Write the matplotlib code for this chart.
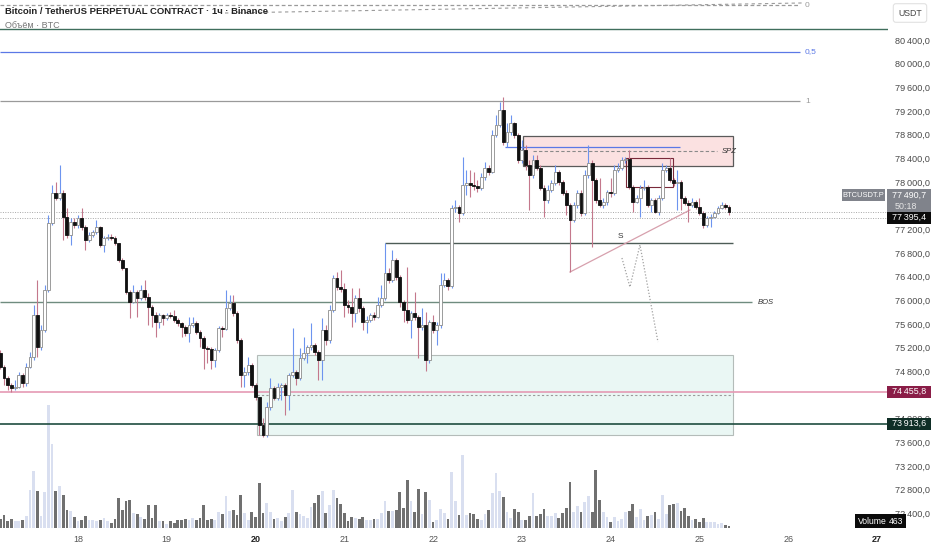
import numpy as np
import matplotlib.pyplot as plt
from matplotlib.patches import Rectangle
import matplotlib.transforms as mtransforms

plt.rcParams["font.family"] = ["Liberation Sans", "DejaVu Sans"]

# BTCUSDT.P, 1h candles, first candle 17th 03:00
FIRST_OPEN = 75110
CLOSE = [
    74874, 74688, 74570, 74519, 74536, 74738, 74603, 74874, 75043, 75753,
    75212, 75499, 76175, 77307, 77814, 77730, 77814, 77409, 77105, 77324,
    77274, 77392, 77240, 77020, 77105, 77155, 77240, 76936, 77054, 77071,
    77054, 76969, 76682, 76547, 76141, 75972, 76141, 76040, 76175, 76057,
    75888, 75753, 75634, 75753, 75702, 75753, 75736, 75668, 75617, 75550,
    75448, 75584, 75617, 75465, 75364, 75195, 75178, 74992, 75161, 75533,
    75516, 75871, 75955, 75786, 75330, 74738, 74789, 74908, 74570, 74367,
    73894, 73725, 74198, 74519, 74350, 74536, 74570, 74401, 74738, 74789,
    74688, 75026, 75110, 75212, 75246, 75127, 74992, 75499, 75330, 75837,
    76378, 76226, 76192, 75922, 75888, 75786, 76040, 75871, 75634, 75668,
    75753, 75719, 75922, 76040, 76462, 76344, 76682, 76395, 75972, 75837,
    75668, 75786, 75719, 75550, 75584, 74992, 75634, 75499, 75584, 76260,
    76344, 76243, 77561, 77578, 77476, 77950, 77983, 77950, 77933, 77899,
    78085, 78237, 78169, 78794, 78963, 79217, 78676, 78845, 78997, 78794,
    78372, 78541, 78288, 78119, 78372, 78237, 77899, 77696, 77865, 77983,
    78169, 78000, 77814, 77612, 77358, 77612, 77814, 77476, 78119, 78321,
    78034, 77696, 77612, 77662, 77831, 77814, 78203, 78237, 78372, 78389,
    77916, 77662, 77730, 77899, 77916, 77612, 77696, 77493, 77730, 78203,
    78237, 78034, 77983, 78000, 77730, 77646, 77612, 77662, 77578, 77476,
    77274, 77392, 77409, 77476, 77561, 77612, 77578, 77490.7,
]
HIGH = [
    75161, 74908, 74722, 74603, 74654, 74789, 74772, 74941, 75127, 75922,
    76344, 75584, 76260, 77443, 77950, 78000, 78288, 77865, 77561, 77392,
    77392, 77443, 77561, 77274, 77155, 77189, 77358, 77257, 77088, 77121,
    77121, 77088, 76969, 76716, 76547, 76175, 76260, 76175, 76260, 76344,
    76124, 75922, 75803, 75786, 75769, 75786, 75803, 75837, 75702, 75634,
    75584, 75719, 75719, 75651, 75499, 75398, 75229, 75212, 75195, 75567,
    75567, 76175, 76090, 76090, 75820, 75364, 74874, 75043, 74941, 74603,
    74367, 74012, 74282, 74688, 74553, 74603, 74603, 74603, 74772, 75533,
    74823, 75195, 75381, 75246, 75617, 75279, 75161, 75702, 75584, 75922,
    76429, 76479, 76513, 76293, 76006, 76209, 76090, 76209, 75905, 75736,
    75786, 75803, 76057, 76260, 76969, 76547, 76851, 76716, 76429, 76006,
    76564, 75820, 76141, 75753, 75871, 75803, 75668, 75753, 75634, 76462,
    76462, 76378, 77612, 77696, 77612, 78423, 78203, 78203, 78169, 78034,
    78152, 78338, 78288, 78879, 79132, 79352, 79437, 78997, 79132, 79014,
    78828, 78710, 78626, 78372, 78457, 78457, 78288, 77950, 77950, 78034,
    78288, 78203, 78034, 77865, 77645, 77662, 77865, 77865, 78203, 78626,
    78372, 78068, 78068, 77730, 77865, 78068, 78288, 78321, 78423, 78423,
    78541, 77950, 77781, 77950, 78034, 77950, 77730, 77730, 77781, 78321,
    78288, 78406, 78068, 78203, 78034, 77764, 77696, 77730, 77696, 77730,
    77510, 77426, 77460, 77510, 77595, 77662, 77646, 77612,
]
LOW = [
    74840, 74570, 74485, 74451, 74485, 74519, 74536, 74553, 74857, 74992,
    75043, 75161, 75465, 76141, 77274, 77696, 77696, 77020, 77054, 76936,
    77223, 77223, 77189, 76851, 76986, 77071, 77121, 76902, 76817, 77020,
    77020, 76936, 76648, 76513, 76107, 75702, 75955, 75719, 76006, 76006,
    75584, 75550, 75381, 75533, 75584, 75668, 75702, 75634, 75567, 75381,
    75398, 75296, 75550, 75431, 75212, 74839, 74941, 74839, 74874, 75127,
    75381, 75499, 75837, 75736, 75279, 74536, 74536, 74738, 74536, 74316,
    73725, 73691, 73691, 74147, 74316, 74316, 74316, 74063, 74147, 74705,
    74570, 74654, 74992, 74941, 75161, 75077, 74654, 74654, 75246, 75279,
    75803, 76175, 76141, 75719, 75786, 75550, 75634, 75803, 75499, 75448,
    75634, 75668, 75702, 75888, 76006, 76293, 76310, 76344, 75888, 75634,
    75617, 75364, 75668, 75026, 75499, 74806, 74941, 75448, 75246, 75533,
    76226, 76175, 76209, 77493, 77324, 77443, 77781, 77747, 77865, 77831,
    77865, 78034, 78119, 78152, 78761, 78930, 78626, 78592, 78794, 78744,
    78321, 78321, 78203, 77527, 78068, 78203, 77865, 77409, 77646, 77831,
    77950, 77950, 77781, 77443, 76479, 77324, 77561, 77426, 77443, 78068,
    76902, 77646, 77578, 77561, 77612, 77747, 77781, 78169, 78203, 78321,
    77882, 77493, 77646, 77409, 77865, 77578, 77493, 77476, 77443, 77696,
    78169, 78000, 77933, 77527, 77527, 77612, 77324, 77578, 77544, 77443,
    77223, 77240, 77240, 77392, 77460, 77540, 77544, 77443,
]
VOLUME = [
    1800, 2600, 1400, 1800, 1400, 1400, 1600, 2400, 7600, 11400,
    7400, 2400, 7200, 24600, 16800, 7400, 8400, 6600, 3600, 3400,
    2200, 1400, 1600, 2400, 1600, 1600, 1400, 1600, 2000, 1400,
    1000, 1800, 6000, 3600, 5400, 5600, 3000, 2800, 2200, 1800,
    4600, 2000, 4600, 1400, 1400, 800, 1400, 1000, 1600, 1600,
    1800, 1600, 2000, 1600, 2000, 4600, 1600, 1800, 1600, 3200,
    2800, 6400, 3400, 3600, 2600, 6600, 3000, 1600, 3200, 2200,
    9000, 3000, 5000, 3200, 1800, 2000, 1400, 2200, 3000, 7600,
    3200, 2800, 2400, 2000, 4200, 5000, 6600, 7400, 3000, 4600,
    7600, 6000, 4800, 3000, 1400, 2200, 2000, 1800, 2200, 1600,
    1600,
    1800, 1800, 3000, 5400, 3400, 3400, 3600, 7200, 4000, 9600,
    5400, 3200, 7800, 2800, 7200, 5600, 1200, 1600, 3800, 3000,
    1800, 11200, 5400, 2600, 14600, 2600, 3000, 2800, 1800, 1600,
    2800, 3600, 7000, 11000, 7400, 6200, 3200, 2000, 3800, 3200,
    1600, 1600, 2400, 7000, 2400, 2800, 3800, 2400, 2400, 3000,
    2000, 3000, 4000, 9200, 3200, 4400, 3200, 5200, 6400, 3200,
    11600, 5600, 3200, 2200, 1200, 2200, 1400, 1800, 3200, 3400,
    4800, 2200, 3800, 1600, 2400, 2600, 3200, 1800, 6600, 2800,
    4600, 4800, 5000, 3400, 4000, 2400, 1600, 1800, 1200, 2000,
    1200, 1200, 1200, 800, 1000, 600, 463,
]

DAY_TICKS = [18, 19, 20, 21, 22, 23, 24, 25, 26, 27]
BOLD_DAYS = [20, 27]
# 77600 and 74400 sit under the price tags, TradingView hides them
PRICE_TICKS = [p for p in range(72400, 80401, 400) if p not in (77600, 74400)]

# drawn levels
TOP_GREEN = 80586
FIB_LEVELS = [("0", 80991, "#9a9a9a"), ("0,5", 80197, "#5b78e6"), ("1", 79369, "#9a9a9a")]
S_LEVEL = 76969
BOS_LEVEL = 75972
PINK_LEVEL = 74455.8
GREEN_LEVEL = 73913.6
MARK_LEVEL = 77395.4
LAST_PRICE = CLOSE[-1]
COUNTDOWN = "50:18"


def price_label(v):
    return f"{v:,.1f}".replace(",", "\u2009").replace(".", ",")


close = np.array(CLOSE, dtype=float)
high = np.array(HIGH, dtype=float)
low = np.array(LOW, dtype=float)
opn = np.r_[FIRST_OPEN, close[:-1]]
vol = np.array(VOLUME, dtype=float)
t = 17 + (3 + np.arange(len(close))) / 24
up = close >= opn

fig = plt.figure(figsize=(9.32, 5.5), dpi=100)
rect = [0, 0, 888 / 932, 1]
ax_vol = fig.add_axes(rect)
ax = fig.add_axes(rect, sharex=ax_vol)
ax.patch.set_alpha(0)

x0, x1 = 17.1214, 27.124
y0, y1 = 71781, 81076
ax.set_xlim(x0, x1)
ax.set_ylim(y0, y1)
ax_vol.set_ylim(-4400, 105600)
px = (y1 - y0) / 550  # price units per pixel

for a in (ax, ax_vol):
    for s in a.spines.values():
        s.set_visible(False)
    a.set_xticks([])
ax_vol.set_yticks([])

# volume
ax_vol.bar(t, vol, width=0.75 / 24, color=np.where(up, "#d9dff0", "#707070"), linewidth=0)

# zones behind candles
ax.add_patch(Rectangle((20.016, 73725), 25.378 - 20.016, 75069 - 73725,
                       facecolor="#eaf7f4", edgecolor="#b4bcb9", lw=0.8, zorder=1))
ax.hlines(74400, 20.016, 25.378, colors="#9a9a9a", linestyles=(0, (2, 2)), lw=0.8, zorder=1.2)
ax.add_patch(Rectangle((23.012, 78271), 25.378 - 23.012, 78778 - 78271,
                       facecolor="#fbe1e1", edgecolor="#5a5a5a", lw=0.9, zorder=1))
ax.hlines(78524, 23.125, 25.2, colors="#8a8a8a", linestyles=(0, (3, 2)), lw=0.8, zorder=1.2)
ax.hlines(78592, 22.81, 24.781, colors="#5b78e6", lw=0.9, zorder=1.2)
ax.add_patch(Rectangle((24.172, 77916), 24.702 - 24.172, 78406 - 77916,
                       facecolor="none", edgecolor="#7a2a3a", lw=0.8, zorder=1.2))
ax.text(25.25, 78524, "SPZ", fontsize=5.5, style="italic", color="#333", va="center")

# horizontal levels
ax.axhline(TOP_GREEN, color="#3f6e5c", lw=1.0, zorder=1)
for name, lvl, col in FIB_LEVELS:
    ls = (0, (3, 2)) if name == "0" else "-"
    ax.hlines(lvl, x0, 26.132, colors=col, lw=0.9, linestyles=ls, zorder=1)
    ax.text(26.19, lvl, name, fontsize=6, color=col, va="center")
ax.plot([19.656, 26.166], [80856, 81026], color="#9a9a9a", lw=0.8, ls=(0, (3, 3)))
ax.hlines(S_LEVEL, 21.458, 25.378, colors="#4d5c57", lw=1.0, zorder=1.5)
ax.text(24.105, 77071, "S", fontsize=6, color="#333", ha="center", va="center")
ax.hlines(BOS_LEVEL, x0, 25.592, colors="#6f8c7f", lw=1.0, zorder=1.5)
ax.text(25.66, BOS_LEVEL, "BOS", fontsize=5.5, style="italic", color="#333", va="center")
ax.axhline(PINK_LEVEL, color="#e59ab4", lw=1.2, zorder=1.5)
ax.axhline(GREEN_LEVEL, color="#1f4d3f", lw=1.2, zorder=1.5)
ax.axhline(LAST_PRICE, color="#a8a8a8", lw=0.7, ls=(0, (1, 1.5)), zorder=1.5)
ax.axhline(MARK_LEVEL, color="#a8a8a8", lw=0.7, ls=(0, (1, 1.5)), zorder=1.5)

# drawings
ax.plot([23.542, 24.893], [76479, 77527], color="#d7a0ad", lw=0.9, zorder=1.6)
ax.plot([24.127, 24.217, 24.330, 24.533], [76716, 76226, 76936, 75296],
        color="#a0a0a0", lw=0.9, ls=(0, (1, 1.5)), zorder=1.6)

# candles
ax.vlines(t, low, high, colors=np.where(up, "#6d94ef", "#c4788c"), lw=0.8, zorder=2)
ax.bar(t, np.maximum(np.abs(close - opn), 12), bottom=np.minimum(opn, close),
       width=0.76 / 24, color=np.where(up, "#ffffff", "#111111"),
       edgecolor=np.where(up, "#8c8c8c", "#111111"), linewidth=0.6, zorder=3)

# price axis on the right
ax.yaxis.tick_right()
ax.set_yticks(PRICE_TICKS)
ax.set_yticklabels([price_label(v) for v in PRICE_TICKS])
ax.tick_params(axis="y", length=0, pad=5, labelsize=6.6, labelcolor="#4a4a4a")

# day labels
xt = ax.get_xaxis_transform()
for d in DAY_TICKS:
    ax.text(d, 10 / 550, str(d), transform=xt, ha="center", va="center",
            fontsize=6.5, color="#222" if d in BOLD_DAYS else "#555",
            fontweight="bold" if d in BOLD_DAYS else "normal")

# price tags: x in figure fraction, y in price
ft = mtransforms.blended_transform_factory(fig.transFigure, ax.transData)


def tag(xl, xr, ybot, ytop, color):
    ax.add_patch(Rectangle((xl / 932, ybot), (xr - xl) / 932, ytop - ybot, transform=ft,
                           facecolor=color, edgecolor="none", clip_on=False, zorder=10))


def tag_text(xc, y, s, color="white", size=6.4):
    ax.text(xc / 932, y, s, transform=ft, ha="center", va="center", fontsize=size,
            color=color, clip_on=False, zorder=11)


tag_top = 77880
tag(887, 931, tag_top - 23 * px, tag_top, "#80838b")
tag_text(909, tag_top - 6 * px, price_label(LAST_PRICE))
tag_text(906, tag_top - 17 * px, COUNTDOWN, color="#e6e6e6")
tag(842, 885, tag_top - 12 * px, tag_top, "#80838b")
tag_text(863.5, tag_top - 6 * px, "BTCUSDT.P", size=5.4)
for lvl, col in [(MARK_LEVEL, "#0b0b0b"), (PINK_LEVEL, "#8a1d47"), (GREEN_LEVEL, "#0f2e26")]:
    tag(887, 931, lvl - 6 * px, lvl + 6 * px, col)
    tag_text(909, lvl, price_label(lvl))

# header texts
fig.text(5 / 932, 1 - 11 / 550, "Bitcoin / TetherUS PERPETUAL CONTRACT · 1ч · Binance",
         fontsize=6.8, fontweight="semibold", color="#222", va="center")
fig.text(5 / 932, 1 - 25 / 550, "Объём · BTC", fontsize=6.5, color="#777", va="center")
fig.text(910 / 932, 1 - 13 / 550, "USDT", fontsize=6.3, color="#444", ha="center", va="center",
         bbox=dict(boxstyle="round,pad=0.55,rounding_size=0.3", fc="white", ec="#e2e2e2", lw=0.8))
fig.text(858 / 932, 1 - 521 / 550, "Volume", fontsize=6.2, color="white", va="center",
         bbox=dict(boxstyle="square,pad=0.3", fc="#0b0b0b", ec="none"))
fig.text(889 / 932, 1 - 521 / 550, "463", fontsize=6.2, color="white", va="center",
         bbox=dict(boxstyle="square,pad=0.3", fc="#0b0b0b", ec="none"))

fig.savefig("out.png", dpi=100)
